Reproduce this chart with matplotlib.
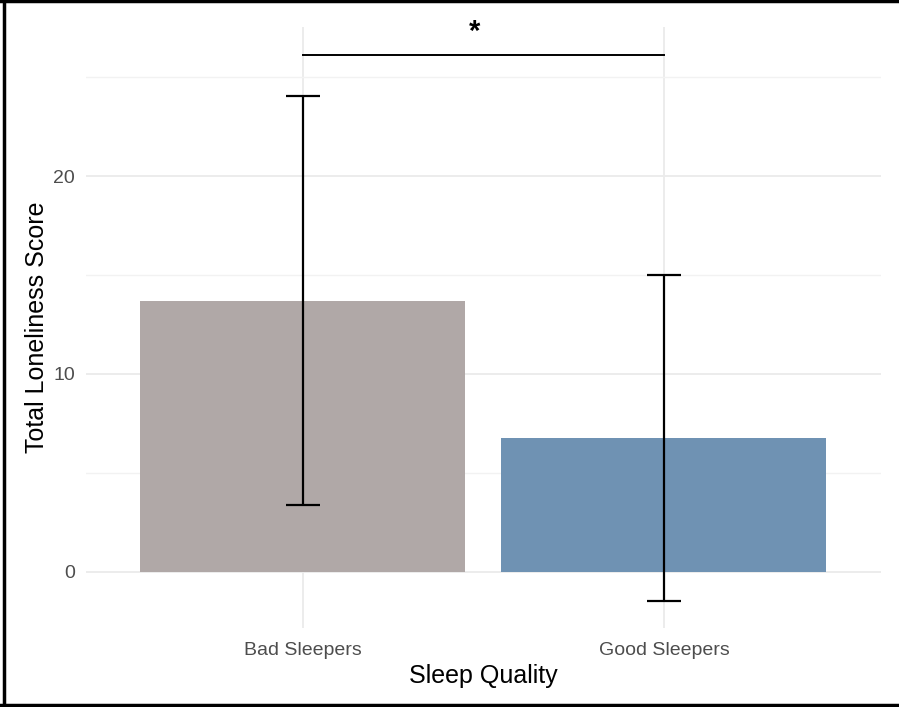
import numpy as np
import matplotlib.pyplot as plt
from matplotlib.lines import Line2D

plt.rcParams['font.family'] = ['Liberation Sans', 'DejaVu Sans']

# Medias y desviaciones de la puntuación de soledad por grupo
grupos = ['Bad Sleepers', 'Good Sleepers']
medias = [13.7, 6.78]
desviaciones = [10.35, 8.25]
colores = ['#B0A8A7', '#6F92B3']

# Corchete de significación
y_corchete = 26.15
etiqueta_sig = '*'

fig = plt.figure(figsize=(8.99, 7.07), dpi=100)
ax = fig.add_axes([0.0957, 0.1117, 0.8838, 0.8501])

x = np.arange(len(grupos))
ax.bar(x, medias, width=0.9, color=colores, zorder=2)
ax.errorbar(x, medias, yerr=desviaciones, fmt='none', ecolor='black',
            elinewidth=1.6, capsize=12.5, capthick=1.6, zorder=3)

# Corchete y asterisco
ax.plot([x[0], x[1]], [y_corchete, y_corchete], color='black', lw=1.4, zorder=3)
ax.annotate(etiqueta_sig, xy=((x[0] + x[1]) / 2, y_corchete), xytext=(-6, 6),
            textcoords='offset points', ha='center', va='bottom',
            fontsize=21, fontweight='bold')

ax.set_xlim(-0.6, 1.6)
ax.set_ylim(-2.85, 27.55)
ax.set_xticks(x)
ax.set_xticklabels(grupos)
ax.set_yticks([0, 10, 20])
ax.set_yticks([5, 15, 25], minor=True)

ax.grid(True, which='major', color='#EBEBEB', lw=1.3, zorder=0)
ax.grid(True, which='minor', axis='y', color='#F2F2F2', lw=1.0, zorder=0)
ax.set_axisbelow(True)
for s in ax.spines.values():
    s.set_visible(False)
ax.tick_params(which='both', length=0, labelsize=14, labelcolor='#4D4D4D')
ax.tick_params(axis='x', pad=10)
ax.tick_params(axis='y', pad=8)

ax.set_xlabel('Sleep Quality', fontsize=18, labelpad=4)
ax.set_ylabel('Total Loneliness Score', fontsize=18, labelpad=3)

# Marco negro alrededor de la figura (sin lado derecho)
for xs, ys in [([0.004, 0.004], [0, 1]), ([0, 1], [0.998, 0.998]), ([0, 1], [0.0025, 0.0025])]:
    fig.add_artist(Line2D(xs, ys, transform=fig.transFigure, color='black', lw=2.5))

fig.savefig('out.png', dpi=100)
